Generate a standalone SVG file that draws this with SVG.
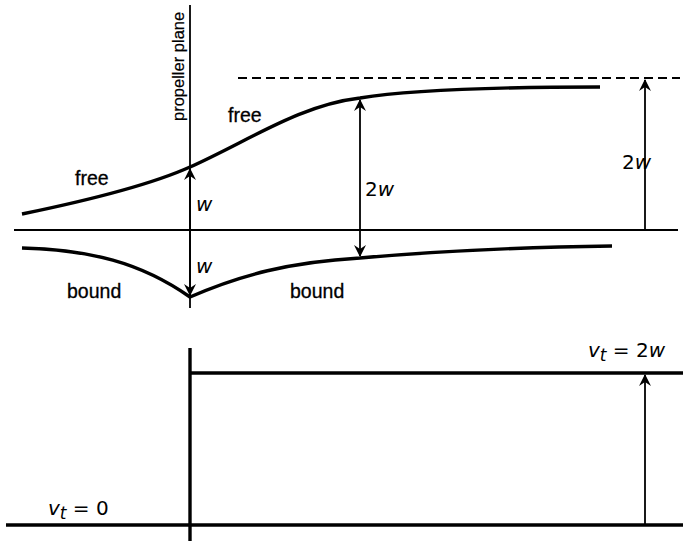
<svg xmlns="http://www.w3.org/2000/svg" width="683" height="542" viewBox="0 0 683 542">
<style>
.ln{stroke:#000;fill:none}
.thin{stroke-width:1.8}
.thick{stroke-width:3.4}
.lbl{font-family:"Liberation Sans",Arial,sans-serif;font-size:19.5px;fill:#000;stroke:#000;stroke-width:0.3}
.m{font-family:"DejaVu Sans",Verdana,sans-serif;font-style:italic;font-size:20px;fill:#000}
.mu{font-family:"DejaVu Sans",Verdana,sans-serif;font-size:20px;fill:#000}
</style>
<defs>
<marker id="ah" viewBox="0 0 12 14" refX="11" refY="7" markerWidth="12" markerHeight="14" orient="auto" markerUnits="userSpaceOnUse">
<path d="M0,1 L12,7 L0,13 L4,7 Z" fill="#000"/>
</marker>
</defs>
<g id="axes">
<line class="ln thin" x1="190" y1="5" x2="190" y2="308"/>
<line class="ln thin" x1="14" y1="230" x2="678" y2="230"/>
<line class="ln thin" x1="238" y1="78" x2="680" y2="78" stroke-dasharray="9,5"/>
</g>
<g id="free-curve">
<path class="ln thick" d="M22,214 C90,200 150,185 190,167 C250,140 300,105 360,98 C420,88 520,87 600,87"/>
</g>
<g id="bound-curve">
<path class="ln thick" d="M22,248 C90,250 140,262 190,297 C240,275 290,262 360,258 C450,250 540,247 612,246"/>
</g>
<g id="connectors">
<line class="ln thin" x1="190" y1="230" x2="190" y2="169" marker-end="url(#ah)"/>
<line class="ln thin" x1="190" y1="230" x2="190" y2="295" marker-end="url(#ah)"/>
<line class="ln thin" x1="360" y1="178" x2="360" y2="100" marker-end="url(#ah)"/>
<line class="ln thin" x1="360" y1="178" x2="360" y2="256" marker-end="url(#ah)"/>
<line class="ln thin" x1="645" y1="230" x2="645" y2="80" marker-end="url(#ah)"/>
<line class="ln thin" x1="645" y1="525" x2="645" y2="375" marker-end="url(#ah)"/>
</g>
<g id="labels">
<text class="lbl" transform="translate(184,121) rotate(-90)" style="font-size:16.5px;stroke-width:0.2">propeller plane</text>
<text class="lbl" x="75" y="185">free</text>
<text class="lbl" x="228" y="122">free</text>
<text class="lbl" x="67" y="298">bound</text>
<text class="lbl" x="290" y="298">bound</text>
<text class="m" x="196" y="211">w</text>
<text class="m" x="196" y="273">w</text>
<text class="mu" x="365" y="196">2<tspan font-style="italic">w</tspan></text>
<text class="mu" x="622" y="169">2<tspan font-style="italic">w</tspan></text>
</g>
<g id="lower">
<line class="ln thick" x1="190" y1="348" x2="190" y2="541"/>
<line class="ln thick" x1="190" y1="373" x2="683" y2="373"/>
<line class="ln thick" x1="6" y1="525" x2="683" y2="525"/>
<text class="m" x="588" y="357" font-size="22">v<tspan font-size="17" dy="4">t</tspan><tspan class="mu" font-style="normal" dy="-4"> = 2</tspan><tspan font-style="italic">w</tspan></text>
<text class="m" x="48" y="515" font-size="22">v<tspan font-size="17" dy="4">t</tspan><tspan font-style="normal" dy="-4"> = 0</tspan></text>
</g>
</svg>
